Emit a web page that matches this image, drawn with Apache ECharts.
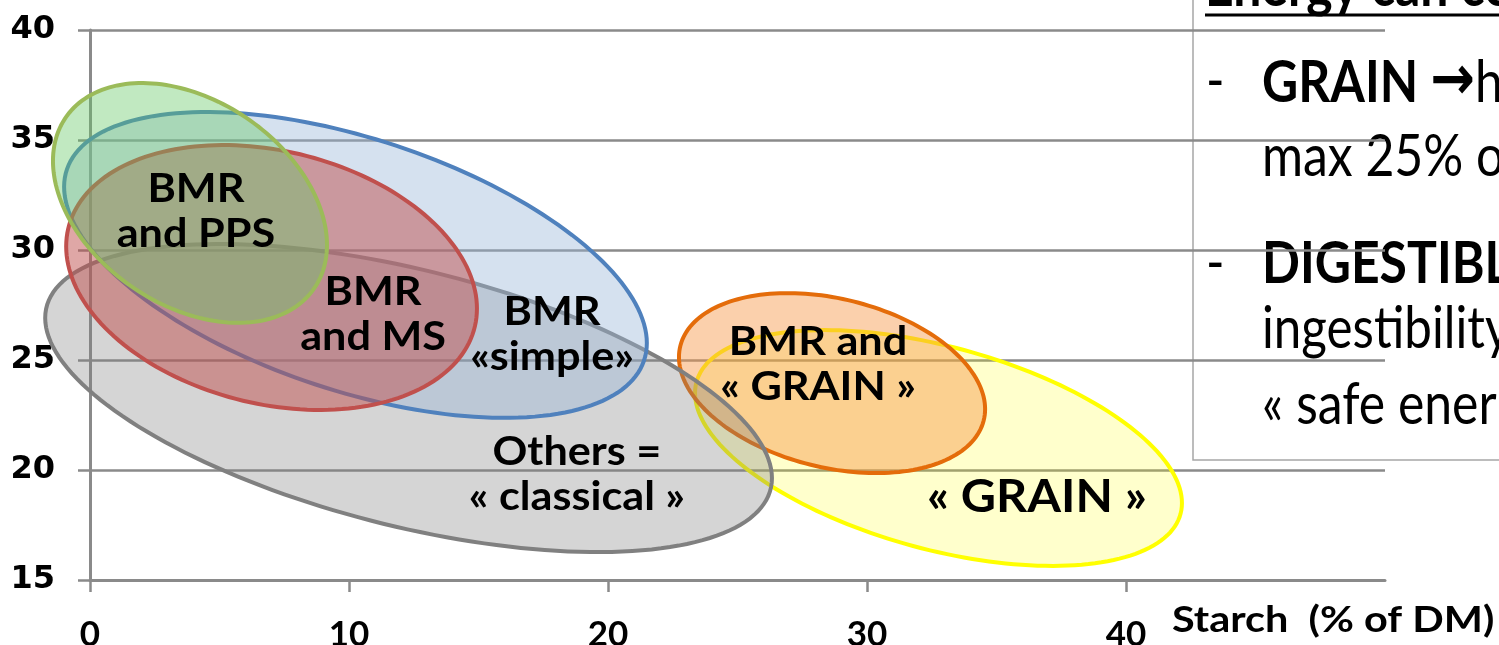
<!DOCTYPE html>
<html>
<head>
<meta charset="utf-8">
<title>Starch vs energy groups</title>
<script src="https://cdn.jsdelivr.net/npm/echarts@6/dist/echarts.min.js"></script>
<style>
  html, body { margin: 0; padding: 0; background: #fff; }
  #main { width: 1499px; height: 645px; }
</style>
</head>
<body>
<div id="main"></div>
<script>
// ellipse groups, drawn bottom to top (data units: starch %DM on x, y axis value)
var groupNames = ['GRAIN', 'BMR and GRAIN', 'Others', 'BMR simple', 'BMR and MS', 'BMR and PPS'];
var centerX    = [32.76, 28.65, 12.30, 10.25, 7.01, 3.86];
var centerY    = [21.00, 23.95, 23.27, 29.32, 28.75, 32.14];
var halfWidth  = [9.40, 5.91, 14.03, 11.25, 7.93, 5.29];
var halfHeight = [5.36, 4.09, 7.00, 6.95, 6.02, 5.45];
// how far the left end sits above the centre (tilt of the ellipse)
var tilt       = [2.50, 1.18, 3.64, 3.55, 1.41, 1.91];

var strokeColors = ['#FFFF00', '#E46C0A', '#808080', '#4F81BD', '#C0504D', '#9BBB59'];
var fillColors = [
  'rgba(255,255,0,0.2)',
  'rgba(247,150,70,0.45)',
  'rgba(128,128,128,0.33)',
  'rgba(149,179,215,0.4)',
  'rgba(192,80,77,0.5)',
  'rgba(100,200,100,0.4)'
];

// text inside the ellipses
var labelText = ['« GRAIN »', 'BMR and\n« GRAIN »', 'Others =\n« classical »', 'BMR\n«simple»', 'BMR\nand MS', 'BMR\nand PPS'];
var labelX    = [36.56, 28.11, 18.80, 17.84, 10.93, 4.09];
var labelY    = [18.77, 24.77, 19.77, 26.14, 27.05, 31.73];

var xTicks = [0, 10, 20, 30, 40];

var chart = echarts.init(document.getElementById('main'));

var ellipseData = groupNames.map(function (n, i) {
  return [centerX[i], centerY[i], halfWidth[i], halfHeight[i], tilt[i]];
});
var labelData = labelText.map(function (t, i) {
  return [labelX[i], labelY[i]];
});

var axisGray = '#8a8a8a';

var option = {
  animation: false,
  backgroundColor: '#fff',
  grid: { left: 90, right: 114, top: 30, bottom: 65, outerBoundsMode: 'none', containLabel: false },
  xAxis: {
    type: 'value',
    min: 0,
    max: 50,
    interval: 10,
    splitLine: { show: false },
    axisLine: { show: true, onZero: false, lineStyle: { color: axisGray, width: 3 } },
    axisTick: { show: true, length: 12, customValues: xTicks, lineStyle: { color: axisGray, width: 2.5 } },
    axisLabel: {
      customValues: xTicks,
      margin: 37,
      color: '#000',
      fontFamily: 'Lato',
      fontWeight: 'bold',
      fontSize: 35
    }
  },
  yAxis: {
    type: 'value',
    min: 15,
    max: 40,
    interval: 5,
    splitLine: { show: true, lineStyle: { color: axisGray, width: 2.5 } },
    axisLine: { show: true, lineStyle: { color: axisGray, width: 3 } },
    axisTick: { show: true, length: 12, lineStyle: { color: axisGray, width: 2.5 } },
    axisLabel: {
      margin: 35,
      color: '#000',
      fontFamily: 'DejaVu Sans',
      fontWeight: 'bold',
      fontSize: 32
    }
  },
  series: [
    {
      type: 'custom',
      name: 'groups',
      clip: false,
      z: 3,
      data: ellipseData,
      renderItem: function (params, api) {
        var i = params.dataIndex;
        var cx = api.value(0), cy = api.value(1);
        var rx = api.value(2), ry = api.value(3), sk = api.value(4);
        var b = Math.sqrt(ry * ry - sk * sk);
        var pts = [];
        for (var k = 0; k < 180; k++) {
          var t = 2 * Math.PI * k / 180;
          pts.push(api.coord([cx + rx * Math.cos(t), cy - sk * Math.cos(t) + b * Math.sin(t)]));
        }
        return {
          type: 'polygon',
          shape: { points: pts },
          style: { fill: fillColors[i], stroke: strokeColors[i], lineWidth: 4 }
        };
      }
    },
    {
      type: 'custom',
      name: 'labels',
      clip: false,
      z: 5,
      data: labelData,
      renderItem: function (params, api) {
        var i = params.dataIndex;
        var p = api.coord([api.value(0), api.value(1)]);
        var big = i === 0;
        return {
          type: 'text',
          x: p[0],
          y: p[1],
          scaleX: 1.08,
          style: {
            text: labelText[i],
            align: 'center',
            verticalAlign: 'middle',
            fontFamily: 'Lato',
            fontWeight: 'bold',
            fontSize: big ? 45 : 40,
            lineHeight: 45,
            fill: '#000'
          }
        };
      }
    }
  ],
  graphic: [
    {
      type: 'text',
      x: 1172,
      y: 620,
      scaleX: 1.12,
      style: {
        text: 'Starch  (% of DM)',
        fontFamily: 'Lato',
        fontWeight: 'bold',
        fontSize: 37,
        fill: '#000',
        verticalAlign: 'middle'
      }
    },
    {
      type: 'group',
      z: 100,
      children: [
        {
          type: 'rect',
          shape: { x: 1193, y: -10, width: 400, height: 470 },
          style: { fill: '#fff', stroke: '#a6a6a6', lineWidth: 1.5 }
        },
        {
          type: 'text', x: 1205, y: -13, scaleX: 0.86,
          style: { text: 'Energy can co', fontFamily: 'Lato', fontWeight: 'bold', fontSize: 58, fill: '#000', verticalAlign: 'middle' }
        },
        {
          type: 'line',
          shape: { x1: 1205, y1: 15, x2: 1499, y2: 15 },
          style: { stroke: '#000', lineWidth: 3 }
        },
        {
          type: 'text', x: 1206, y: 81, scaleX: 0.86,
          style: { text: '-', fontFamily: 'Lato', fontSize: 58, fill: '#000', verticalAlign: 'middle' }
        },
        {
          type: 'text', x: 1262, y: 83, scaleX: 0.86,
          style: {
            text: '{b|GRAIN }{a|→}{r|h}',
            verticalAlign: 'middle',
            rich: {
              b: { fontFamily: 'Lato', fontWeight: 'bold', fontSize: 58, fill: '#000' },
              a: { fontFamily: 'DejaVu Sans', fontWeight: 'bold', fontSize: 62, fill: '#000' },
              r: { fontFamily: 'Lato', fontSize: 58, fill: '#000' }
            }
          }
        },
        {
          type: 'text', x: 1262, y: 157, scaleX: 0.86,
          style: { text: 'max 25% o', fontFamily: 'Lato', fontSize: 58, fill: '#000', verticalAlign: 'middle' }
        },
        {
          type: 'text', x: 1206, y: 263, scaleX: 0.86,
          style: { text: '-', fontFamily: 'Lato', fontSize: 58, fill: '#000', verticalAlign: 'middle' }
        },
        {
          type: 'text', x: 1262, y: 264, scaleX: 0.86,
          style: { text: 'DIGESTIBLE', fontFamily: 'Lato', fontWeight: 'bold', fontSize: 58, fill: '#000', verticalAlign: 'middle' }
        },
        {
          type: 'text', x: 1262, y: 329, scaleX: 0.85,
          style: { text: 'ingestibility', fontFamily: 'Lato', fontSize: 58, fill: '#000', verticalAlign: 'middle' }
        },
        {
          type: 'text', x: 1262, y: 405, scaleX: 0.86,
          style: { text: '« safe ener', fontFamily: 'Lato', fontSize: 58, fill: '#000', verticalAlign: 'middle' }
        }
      ]
    }
  ]
};

chart.setOption(option);
</script>
</body>
</html>
